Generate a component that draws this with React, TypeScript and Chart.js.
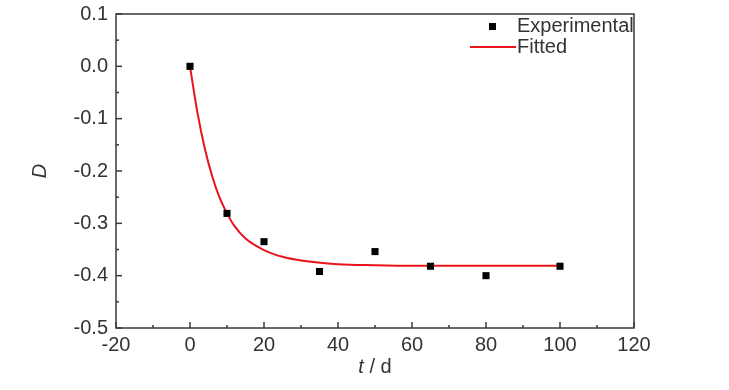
import React, { useEffect, useRef } from "react";
import { Chart, registerables } from "chart.js";

Chart.register(...registerables);

// Experimental data
const expT = [0, 10, 20, 35, 50, 65, 80, 100];
const expD = [0, -0.281, -0.335, -0.392, -0.354, -0.382, -0.4, -0.382];

// Fitted curve
const fitT = [0, 2, 4, 6, 8, 10, 12, 15, 20, 25, 30, 40, 50, 60, 80, 100];
const fitD = [0, -0.088, -0.157, -0.21, -0.251, -0.281, -0.305, -0.329, -0.351, -0.364, -0.371, -0.378, -0.38, -0.381, -0.381, -0.381];

const xTicks = [-20, 0, 20, 40, 60, 80, 100, 120];
const yTicks = [0.1, 0, -0.1, -0.2, -0.3, -0.4, -0.5];
const legendLabels = ["Experimental", "Fitted"];
const xTitleItalic = "t";
const xTitleRest = " / d";
const yTitle = "D";

const FONT = "'Liberation Sans', Arial, sans-serif";
const TEXT = "#333333";
const AXIS = "#3a3a3a";

const framePlugin = {
  id: "frame",
  beforeDatasetsDraw(chart: any) {
    const { ctx, chartArea: a, scales } = chart;
    const xs = scales.x;
    const ys = scales.y;
    ctx.save();
    ctx.strokeStyle = AXIS;
    ctx.lineWidth = 1.5;
    ctx.strokeRect(a.left, a.top, a.right - a.left, a.bottom - a.top);
    ctx.lineWidth = 1.5;
    for (let i = 0; i < xTicks.length; i++) {
      const px = xs.getPixelForValue(xTicks[i]);
      ctx.beginPath();
      ctx.moveTo(px, a.bottom);
      ctx.lineTo(px, a.bottom - 6);
      ctx.stroke();
      if (i < xTicks.length - 1) {
        const pm = xs.getPixelForValue((xTicks[i] + xTicks[i + 1]) / 2);
        ctx.beginPath();
        ctx.moveTo(pm, a.bottom);
        ctx.lineTo(pm, a.bottom - 3);
        ctx.stroke();
      }
    }
    for (let i = 0; i < yTicks.length; i++) {
      const py = ys.getPixelForValue(yTicks[i]);
      ctx.beginPath();
      ctx.moveTo(a.left, py);
      ctx.lineTo(a.left + 6, py);
      ctx.stroke();
      if (i < yTicks.length - 1) {
        const pm = ys.getPixelForValue((yTicks[i] + yTicks[i + 1]) / 2);
        ctx.beginPath();
        ctx.moveTo(a.left, pm);
        ctx.lineTo(a.left + 3, pm);
        ctx.stroke();
      }
    }
    ctx.restore();
  },
  afterDraw(chart: any) {
    const { ctx, chartArea: a } = chart;
    ctx.save();
    ctx.fillStyle = TEXT;
    ctx.textBaseline = "middle";
    const cx = (a.left + a.right) / 2;
    const ty = 367;
    ctx.font = `italic 20px ${FONT}`;
    const w1 = ctx.measureText(xTitleItalic).width;
    ctx.font = `20px ${FONT}`;
    const w2 = ctx.measureText(xTitleRest).width;
    const sx = cx - (w1 + w2) / 2;
    ctx.textAlign = "left";
    ctx.font = `italic 20px ${FONT}`;
    ctx.fillText(xTitleItalic, sx, ty);
    ctx.font = `20px ${FONT}`;
    ctx.fillText(xTitleRest, sx + w1, ty);
    ctx.save();
    ctx.translate(40, (a.top + a.bottom) / 2);
    ctx.rotate(-Math.PI / 2);
    ctx.textAlign = "center";
    ctx.font = `italic 20px ${FONT}`;
    ctx.fillText(yTitle, 0, 0);
    ctx.restore();
    ctx.fillStyle = "#000";
    ctx.fillRect(489, 23, 7, 7);
    ctx.strokeStyle = "#e8141a";
    ctx.lineWidth = 2;
    ctx.beginPath();
    ctx.moveTo(470, 47);
    ctx.lineTo(516, 47);
    ctx.stroke();
    ctx.fillStyle = TEXT;
    ctx.font = `20px ${FONT}`;
    ctx.textAlign = "left";
    ctx.fillText(legendLabels[0], 517, 26);
    ctx.fillText(legendLabels[1], 517, 47);
    ctx.restore();
  },
};

export default function App() {
  const ref = useRef<HTMLCanvasElement | null>(null);
  useEffect(() => {
    if (!ref.current) return;
    const chart = new Chart(ref.current, {
      type: "scatter",
      data: {
        datasets: [
          {
            label: legendLabels[0],
            data: expT.map((t, i) => ({ x: t, y: expD[i] })),
            pointStyle: "rect",
            pointRadius: 5,
            pointBackgroundColor: "#000",
            pointBorderColor: "#000",
            pointBorderWidth: 0,
            showLine: false,
          },
          {
            label: legendLabels[1],
            data: fitT.map((t, i) => ({ x: t, y: fitD[i] })),
            showLine: true,
            pointRadius: 0,
            borderColor: "#e8141a",
            borderWidth: 2,
            cubicInterpolationMode: "monotone",
          },
        ],
      },
      options: {
        responsive: false,
        animation: false,
        events: [],
        layout: { padding: { left: 0, top: 14, right: 95, bottom: 0 } },
        plugins: { legend: { display: false }, tooltip: { enabled: false } },
        scales: {
          x: {
            type: "linear",
            min: -20,
            max: 120,
            afterFit: (s: any) => {
              s.height = 62;
              s.paddingLeft = 0;
              s.paddingRight = 0;
            },
            afterBuildTicks: (s: any) => {
              s.ticks = xTicks.map((v) => ({ value: v }));
            },
            grid: { display: false, drawTicks: false },
            border: { display: false },
            ticks: {
              padding: 5,
              color: TEXT,
              font: { family: FONT, size: 20 },
              maxRotation: 0,
              callback: (v: any) => String(v),
            },
          },
          y: {
            type: "linear",
            min: -0.5,
            max: 0.1,
            afterFit: (s: any) => {
              s.width = 116;
              s.paddingTop = 0;
              s.paddingBottom = 0;
            },
            afterBuildTicks: (s: any) => {
              s.ticks = yTicks.map((v) => ({ value: v }));
            },
            grid: { display: false, drawTicks: false },
            border: { display: false },
            ticks: {
              padding: 8,
              color: TEXT,
              font: { family: FONT, size: 20 },
              callback: (v: any) => Number(v).toFixed(1),
            },
          },
        },
      },
      plugins: [framePlugin],
    } as any);
    return () => chart.destroy();
  }, []);
  return (
    <div style={{ position: "absolute", left: 0, top: 0, width: 729, height: 390, background: "#fff" }}>
      <canvas ref={ref} width={729} height={390} />
    </div>
  );
}
